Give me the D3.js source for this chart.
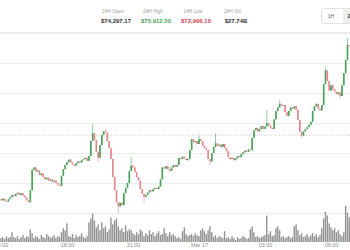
<!DOCTYPE html>
<html>
<head>
<meta charset="utf-8">
<script src="https://cdn.jsdelivr.net/npm/d3@7"></script>
<style>
  body { margin: 0; background: #fff; }
  svg { display: block; font-family: "Liberation Sans", Arial, sans-serif; }
</style>
</head>
<body>
<svg width="350" height="250"></svg>
<script>
// 5-minute BTC candles, first candle 15:00 Mar 16
var firstOpen = 73230;
var closes = [
  73210, 73240, 73200, 73190, 73230, 73260, 73300, 73280, 73320, 73340,
  73300, 73330, 73290, 73260, 73210, 73180, 73380, 73720, 73760, 73690,
  73710, 73630, 73660, 73600, 73560, 73590, 73540, 73560, 73520, 73540,
  73500, 73470, 73450, 73620, 73730, 73800, 73850, 73890, 73840, 73810,
  73790, 73830, 73860, 73840, 73880, 73900, 73920, 73870, 73950, 74200,
  74330, 74220, 74020, 73920, 74130, 74300, 74360, 74340, 74200, 74080,
  73900, 73600, 73380, 73180, 73110, 73170, 73130, 73330, 73420, 73500,
  73700, 73790, 73760, 73680, 73600, 73540, 73400, 73320, 73270, 73300,
  73340, 73380, 73360, 73400, 73420, 73400, 73440, 73560, 73760, 73740,
  73780, 73730, 73700, 73760, 73800, 73770, 73800, 73920, 73900, 73940,
  73910, 73880, 73900, 74050, 74230, 74180, 74200, 74150, 74230, 74200,
  74120, 74080, 74050, 73900, 73860, 74000, 74100, 74160, 74120, 74140,
  74100, 74150, 74080, 74030, 73930, 73900, 73920, 73880, 73910, 73950,
  73930, 73980, 74010, 74040, 74020, 74060, 74050, 74250, 74380, 74420,
  74360, 74400, 74450, 74400, 74440, 74500, 74460, 74420, 74400, 74560,
  74700, 74760, 74820, 74790, 74800, 74680, 74620, 74700, 74760, 74740,
  74780, 74720, 74550, 74350, 74290, 74360, 74400, 74430, 74470, 74520,
  74700, 74780, 74820, 74740, 74710, 74800, 75150, 75380, 75200, 75040,
  75130, 75060, 75020, 74980, 75010, 74950, 75130, 75330, 75550, 75800,
  75780
];
// notable wicks [candle index, price]
var wickHighs = [[50, 74480], [57, 74400], [71, 73930], [108, 74290], [117, 74330],
                 [145, 74720], [152, 74880], [177, 75440], [189, 75912.5]];
var wickLows = [[53, 73850], [64, 72996.1], [78, 73170], [114, 73800], [125, 73880],
                [164, 74250], [185, 74900]];
// volume per candle, $M
var volumes = [
  56, 70, 42, 84, 56, 70, 140, 70, 56, 84, 42, 70, 98, 56, 84, 70,
  180, 126,
  56, 84, 70, 42, 98, 70, 56, 112, 84, 56, 70, 98, 56, 84, 70,
  140, 196, 168, 266,
  84, 70, 112, 56, 98, 70, 84, 126, 70, 56, 84,
  280, 336, 406, 308,
  210, 252, 168, 280, 196, 224, 140, 182,
  350, 252, 308, 336,
  224, 168, 196, 140, 238, 154, 182,
  168, 126, 98, 140, 112, 182, 154, 84, 126, 98, 168, 112, 140, 84, 126, 154, 98, 112, 196, 126, 84, 140, 98, 112, 84,
  56, 70, 42, 154, 210, 112, 84,
  98, 112, 84, 126, 98, 84,
  168, 196, 154, 112, 168, 224, 140,
  70, 98, 56, 84, 70, 56, 154,
  56, 70, 42, 84, 56, 28, 70, 42, 56, 84, 70, 42, 56,
  182, 224, 140,
  70, 84, 56, 70, 84, 98, 378,
  112, 154, 84, 98, 196, 224, 168,
  70, 84, 56, 70, 84, 56, 70,
  224, 252, 168,
  98, 126, 70, 84, 112, 70, 98, 126, 84, 112, 70, 98,
  196, 336, 434, 378,
  266, 210, 168, 196, 140, 168, 112, 84, 140,
  518, 420, 350
];
var tickLabels = ["15:00", "18:00", "21:00", "Mar 17", "03:00", "06:00"];
var priceTicks = [73000, 73500, 74000, 74500, 75000, 75500, 76000];
var statLabels = ["24H Open", "24H High", "24H Low", "24H Vol."];
var statValues = ["$74,297.17", "$75,912.50", "$72,996.10", "$27.74B"];
var openPrice = 74297.17;

var svg = d3.select("svg");
var start = Date.UTC(2024, 2, 16, 15, 0);
var step = 5 * 60 * 1000;

var n = Math.min(closes.length, volumes.length);
var candles = [];
for (var i = 0; i < n; i++) {
  var o = i == 0 ? firstOpen : closes[i - 1];
  var c = closes[i];
  candles.push({ t: new Date(start + i * step), o: o, c: c,
                 h: Math.max(o, c), l: Math.min(o, c), v: volumes[i] });
}
wickHighs.forEach(function(w) { if (candles[w[0]]) candles[w[0]].h = Math.max(candles[w[0]].h, w[1]); });
wickLows.forEach(function(w) { if (candles[w[0]]) candles[w[0]].l = Math.min(candles[w[0]].l, w[1]); });

var x = d3.scaleUtc()
  .domain([new Date(start), new Date(start + 15 * 3600 * 1000)])
  .range([1, 331]);
var y = d3.scaleLinear().domain([73000, 76000]).range([213, 33]);
var yv = d3.scaleLinear().domain([0, 600]).range([242, 200]);

// grid
svg.append("g").selectAll("line")
  .data(priceTicks)
  .enter().append("line")
  .attr("x1", 0).attr("x2", 350)
  .attr("y1", function(d) { return Math.round(y(d)) + 0.5; })
  .attr("y2", function(d) { return Math.round(y(d)) + 0.5; })
  .attr("stroke", "#ececec");

svg.append("line")
  .attr("x1", 0).attr("x2", 350)
  .attr("y1", y(openPrice)).attr("y2", y(openPrice))
  .attr("stroke", "#d2d2d2").attr("stroke-dasharray", "1.5,1.5");

// volume
svg.append("g").selectAll("rect")
  .data(candles)
  .enter().append("rect")
  .attr("x", function(d) { return x(d.t) - 0.75; })
  .attr("y", function(d) { return yv(d.v); })
  .attr("width", 1.4)
  .attr("height", function(d) { return yv(0) - yv(d.v); })
  .attr("fill", "#939393");

// candles
var up = "#47a056", down = "#e3848b";
var cg = svg.append("g");
cg.selectAll("line")
  .data(candles)
  .enter().append("line")
  .attr("x1", function(d) { return x(d.t); })
  .attr("x2", function(d) { return x(d.t); })
  .attr("y1", function(d) { return y(d.h); })
  .attr("y2", function(d) { return y(d.l); })
  .attr("stroke", function(d) { return d.c >= d.o ? up : down; })
  .attr("stroke-width", 0.7)
  .attr("opacity", 0.8);
cg.selectAll("rect")
  .data(candles)
  .enter().append("rect")
  .attr("x", function(d) { return x(d.t) - 0.8; })
  .attr("y", function(d) { return y(Math.max(d.o, d.c)); })
  .attr("width", 1.6)
  .attr("height", function(d) { return Math.max(0.9, Math.abs(y(d.o) - y(d.c))); })
  .attr("fill", function(d) { return d.c >= d.o ? up : down; });

// x axis
var tickDates = tickLabels.map(function(d, i) { return new Date(start + i * 3 * 3600 * 1000); });
var xAxis = svg.append("g")
  .attr("transform", "translate(0,241)")
  .call(d3.axisBottom(x).tickValues(tickDates).tickSize(0).tickPadding(2)
    .tickFormat(function(d, i) { return tickLabels[i]; }));
xAxis.select(".domain").remove();
xAxis.selectAll("text").attr("fill", "#8a8a8a").attr("font-size", 5.5)
  .attr("font-family", "Liberation Sans, Arial, sans-serif");

// header
svg.append("rect").attr("x", 0).attr("y", 0).attr("width", 350).attr("height", 32).attr("fill", "#fff");
svg.append("line").attr("x1", 0).attr("x2", 350).attr("y1", 32.5).attr("y2", 32.5).attr("stroke", "#ececec");

var statX = [116, 156, 196, 236];
var statColors = ["#333", "#47a056", "#d0434f", "#333"];
var hdr = svg.append("g");
hdr.selectAll("text.lbl")
  .data(statLabels)
  .enter().append("text")
  .attr("class", "lbl")
  .attr("x", function(d, i) { return statX[i] - 3; })
  .attr("y", 12.5)
  .attr("text-anchor", "middle")
  .attr("font-size", 4.8)
  .attr("fill", "#9a9a9a")
  .text(function(d) { return d; });
hdr.selectAll("text.val")
  .data(statValues)
  .enter().append("text")
  .attr("class", "val")
  .attr("x", function(d, i) { return statX[i]; })
  .attr("y", 22.5)
  .attr("text-anchor", "middle")
  .attr("font-size", 6)
  .attr("font-weight", "bold")
  .attr("fill", function(d, i) { return statColors[i]; })
  .text(function(d) { return d; });

// range buttons
svg.append("rect").attr("x", 321.5).attr("y", 8.5).attr("width", 60).attr("height", 15)
  .attr("rx", 2.5).attr("fill", "#fff").attr("stroke", "#e2e2e2");
svg.append("rect").attr("x", 343).attr("y", 9).attr("width", 30).attr("height", 14)
  .attr("fill", "#ededed");
svg.append("text").attr("x", 331).attr("y", 18).attr("text-anchor", "middle")
  .attr("font-size", 5).attr("fill", "#555").text("1H");
svg.append("text").attr("x", 352).attr("y", 18).attr("text-anchor", "middle")
  .attr("font-size", 5).attr("font-weight", "bold").attr("fill", "#333").text("24H");
</script>
</body>
</html>
